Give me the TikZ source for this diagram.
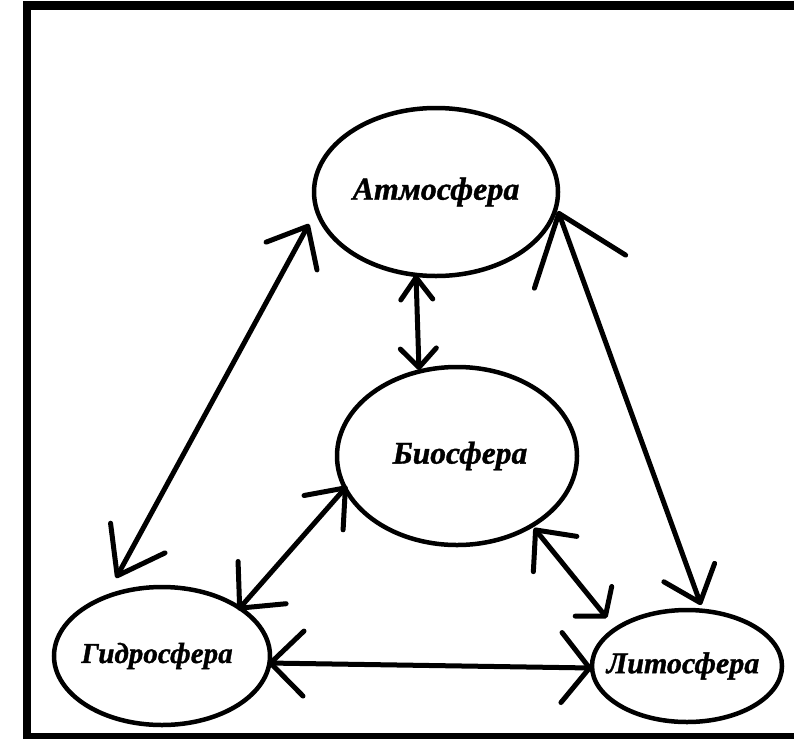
\documentclass[tikz,border=0pt]{standalone}
\usepackage{fontspec}
\setmainfont{Liberation Serif}[BoldItalicFeatures={FakeBold=1.2}]
\usetikzlibrary{arrows.meta,shapes.geometric}
\begin{document}
\begin{tikzpicture}[x=1pt,y=-1pt,
  sphere/.style={draw, line width=4.5pt, ellipse, inner sep=0pt},
  txt/.style={font=\fontsize{#1}{#1}\selectfont\bfseries\itshape},
  link/.style={line width=5pt, line cap=round, line join=round},
  frameline/.style={fill=black}]
\useasboundingbox (0,0) rectangle (794,739);
% frame
\fill[frameline] (23,1) rectangle (794,10);
\fill[frameline] (23,1) rectangle (31,739);
\fill[frameline] (23,733) rectangle (794,739);
% spheres
\node[sphere, txt=32, minimum width=244pt, minimum height=168pt] (atm) at (436,192) {\makebox[0pt]{Атмосфера}};
\node[sphere, txt=31.5, minimum width=240pt, minimum height=178pt] (bio) at (457,456) {\makebox[0pt]{\hspace*{6pt}\raisebox{-8pt}{Биосфера}}};
\node[sphere, txt=29, minimum width=216pt, minimum height=138pt] (gid) at (162,656) {\makebox[0pt]{\hspace*{-10pt}Гидросфера}};
\node[sphere, txt=30, minimum width=190pt, minimum height=112pt] (lit) at (687,666) {\makebox[0pt]{\hspace*{-8pt}Литосфера}};
% connectors
\draw[link,
  {Straight Barb[length=34pt, width=58pt, round]}-{Straight Barb[length=43pt, width=62pt, round]}]
  ([shift={(-127,32)}]atm.center) -- ([shift={(-46,-78)}]gid.center);
\draw[link,
  {Straight Barb[length=22pt, width=32pt, round]}-{Straight Barb[length=19pt, width=36pt, round]}]
  ([shift={(-20,83)}]atm.center) -- ([shift={(-38,-86)}]bio.center);
\draw[link,
  {Straight Barb[length=62pt, width=97pt, round]}-{Straight Barb[length=32pt, width=54pt, round]}]
  ([shift={(122,19)}]atm.center) -- ([shift={(14,-61)}]lit.center);
\draw[link,
  {Straight Barb[length=33pt, width=52pt, round]}-{Straight Barb[length=34pt, width=64pt, round]}]
  ([shift={(-110,30)}]bio.center) -- ([shift={(76,-46)}]gid.center);
\draw[link,
  {Straight Barb[length=31pt, width=56pt, round]}-{Straight Barb[length=19pt, width=47pt, round]}]
  ([shift={(77,72)}]bio.center) -- ([shift={(-80,-48)}]lit.center);
\draw[link,
  {Straight Barb[length=33pt, width=65pt, round]}-{Straight Barb[length=28pt, width=70pt, round]}]
  ([shift={(106,7)}]gid.center) -- ([shift={(-95,2)}]lit.center);
\end{tikzpicture}
\end{document}
